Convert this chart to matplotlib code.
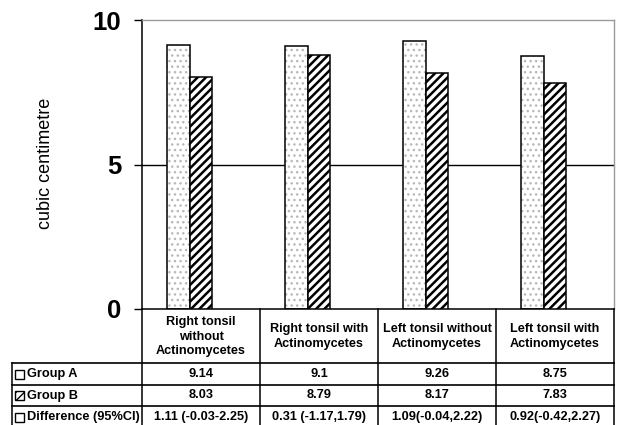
import matplotlib
matplotlib.use('Agg')
import matplotlib.pyplot as plt
from matplotlib.patches import Rectangle
from matplotlib.lines import Line2D
from matplotlib.transforms import blended_transform_factory
import numpy as np

plt.rcParams['font.family'] = ['Liberation Sans', 'DejaVu Sans']

categories = ["Right tonsil\nwithout\nActinomycetes",
              "Right tonsil with\nActinomycetes",
              "Left tonsil without\nActinomycetes",
              "Left tonsil with\nActinomycetes"]
group_a = [9.14, 9.1, 9.26, 8.75]
group_b = [8.03, 8.79, 8.17, 7.83]
difference_labels = ["1.11 (-0.03-2.25)", "0.31 (-1.17,1.79)",
                     "1.09(-0.04,2.22)", "0.92(-0.42,2.27)"]
series_names = ["Group A", "Group B", "Difference (95%CI)"]
y_ticks = [0, 5, 10]
y_label = "cubic centimetre"

W, H = 617, 425
fig = plt.figure(figsize=(W / 100, H / 100), dpi=100)
fig.patch.set_facecolor('white')

def fx(px):
    return px / W

def fy(py):
    return 1 - py / H

ax = fig.add_axes([fx(142), fy(309), (614 - 142) / W, (309 - 20) / H])

x = np.arange(len(categories))
w = 0.19
# Group A: dotted light gray fill with black outline
ax.bar(x - w, group_a, w, color='white', edgecolor='#b8b8b8', hatch='...', linewidth=0, zorder=2)
ax.bar(x - w, group_a, w, fill=False, edgecolor='black', linewidth=1.1, zorder=3)
# Group B: dense diagonal hatch
with plt.rc_context({'hatch.linewidth': 1.8}):
    ax.bar(x, group_b, w, color='white', edgecolor='black', hatch='////', linewidth=1.1, zorder=3)

ax.set_xlim(-0.5, len(categories) - 0.5)
ax.set_ylim(0, 10)
ax.set_yticks(y_ticks)
ax.set_yticklabels([str(t) for t in y_ticks], fontsize=18.5, fontweight='bold')
ax.tick_params(axis='y', direction='out', length=6, width=1, pad=9)
ax.set_xticks([])
ax.axhline(5, color='black', linewidth=1, zorder=1)
for s in ['top', 'right']:
    ax.spines[s].set_color('#9a9a9a')
    ax.spines[s].set_linewidth(1)
for s in ['left', 'bottom']:
    ax.spines[s].set_color('black')
    ax.spines[s].set_linewidth(1.1)

fig.text(fx(46), fy(163), y_label, rotation=90, fontsize=13, ha='center', va='center')

# Table below the axis
btrans = blended_transform_factory(ax.transData, fig.transFigure)
row_edges = [309, 363, 385, 406, 428]
bounds = np.arange(len(categories) + 1) - 0.5
for b in bounds:
    fig.add_artist(Line2D([b, b], [fy(309), fy(row_edges[-1])], transform=btrans,
                          color='black', linewidth=1.1))
for ry in row_edges[1:]:
    fig.add_artist(Line2D([fx(12), fx(614)], [fy(ry), fy(ry)], transform=fig.transFigure,
                          color='black', linewidth=1.2))
fig.add_artist(Line2D([fx(12), fx(12)], [fy(363), fy(row_edges[-1])], transform=fig.transFigure,
                      color='black', linewidth=1.1))

hy = (row_edges[0] + row_edges[1]) / 2 + 0.5
for i, c in enumerate(categories):
    fig.text(i, fy(hy), c, transform=btrans, ha='center', va='center', multialignment='center',
             fontsize=9.1, fontweight='bold', linespacing=1.32)

rows = [[f"{v:g}" for v in group_a], [f"{v:g}" for v in group_b], difference_labels]
hatches = ['', '////', '']
for r, (name, vals) in enumerate(zip(series_names, rows)):
    cy = (row_edges[r + 1] + row_edges[r + 2]) / 2
    rect = Rectangle((fx(15), fy(cy + 4.5)), 9 / W, 9 / H, transform=fig.transFigure,
                     facecolor='white', edgecolor='black', linewidth=1, hatch=hatches[r])
    fig.add_artist(rect)
    fig.text(fx(27), fy(cy), name, ha='left', va='center', fontsize=9.2, fontweight='bold')
    for i, v in enumerate(vals):
        fig.text(i, fy(cy), v, transform=btrans, ha='center', va='center',
                 fontsize=9.2, fontweight='bold')

fig.savefig('out.png', dpi=100, facecolor='white')
